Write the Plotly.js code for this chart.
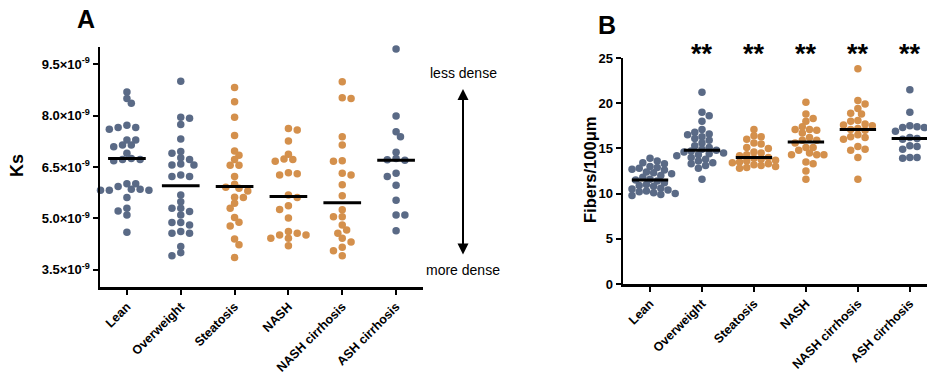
<!DOCTYPE html>
<html>
<head>
<meta charset="utf-8">
<script src="https://cdn.plot.ly/plotly-3.0.1.min.js"></script>
<style>html,body{margin:0;padding:0;background:#fff;}#chart{width:927px;height:375px;}</style>
</head>
<body>
<div id="chart"></div>
<script>
// ---------- data ----------
const groups = ["Lean", "Overweight", "Steatosis", "NASH", "NASH cirrhosis", "ASH cirrhosis"];
const groupColorKey = ["blue", "blue", "orange", "orange", "orange", "blue"];

// Panel A: Ks (units of 10^-9)
const ksLean = [8.69, 8.50, 8.36, 7.65, 7.60, 7.72, 7.65, 7.29, 7.29, 7.14, 7.14, 7.09, 6.90, 6.72, 6.68, 6.75, 6.72, 6.01, 6.01, 5.93, 5.82, 5.85, 5.82, 5.85, 5.82, 5.61, 5.22, 5.30, 5.10, 4.60];
const ksOverweight = [9.00, 7.95, 7.92, 7.74, 7.32, 6.90, 6.95, 6.72, 6.77, 6.56, 6.56, 6.59, 6.27, 6.22, 6.22, 5.68, 5.49, 5.30, 5.30, 5.20, 5.10, 4.88, 4.81, 4.88, 4.62, 4.57, 4.57, 4.18, 3.91, 4.00];
const ksSteatosis = [8.82, 8.40, 7.95, 7.42, 6.84, 6.55, 6.22, 5.91, 5.61, 5.30, 4.78, 4.23, 3.86, 6.55, 5.88, 5.80, 5.44, 5.03, 4.40, 6.97, 6.72, 6.00, 5.62, 4.89];
const ksNASH = [7.58, 7.62, 7.26, 6.87, 6.73, 6.67, 6.72, 6.30, 6.27, 6.33, 5.68, 5.61, 5.37, 5.26, 5.01, 4.62, 4.52, 4.42, 4.52, 4.57, 4.42, 4.20];
const ksNASHcirrhosis = [8.99, 8.52, 8.50, 7.38, 7.14, 6.68, 6.67, 6.27, 6.32, 5.98, 5.66, 5.25, 5.05, 5.05, 4.81, 4.57, 4.66, 4.42, 4.31, 4.16, 3.91, 4.06];
const ksASHcirrhosis = [9.94, 7.99, 7.38, 7.53, 6.93, 6.71, 6.70, 6.75, 6.22, 6.32, 5.97, 5.53, 5.10, 5.10, 4.64];
const ksMedian = [6.75, 5.95, 5.93, 5.64, 5.46, 6.70];

// Panel B: Fibers / 100 µm
const fbLean = [13.9, 13.6, 13.4, 13.3, 13.0, 12.9, 12.8, 12.7, 12.6, 12.4, 12.3, 12.2, 12.0, 11.8, 11.6, 11.5, 11.4, 11.2, 11.0, 10.9, 10.8, 10.6, 10.5, 10.4, 10.3, 10.2, 10.1, 10.0, 9.9, 9.8];
const fbOverweight = [21.2, 19.0, 18.6, 18.0, 17.1, 16.8, 16.6, 16.5, 16.3, 16.1, 15.9, 15.6, 15.3, 15.1, 14.9, 14.8, 14.7, 14.6, 14.5, 14.4, 14.3, 14.2, 14.0, 13.8, 13.6, 13.4, 13.3, 13.1, 12.8, 11.6];
const fbSteatosis = [17.1, 16.4, 16.3, 16.0, 15.6, 15.5, 15.1, 15.0, 14.6, 14.5, 14.3, 14.2, 14.0, 13.9, 13.8, 13.7, 13.6, 13.5, 13.4, 13.3, 13.2, 13.1, 13.0, 12.9, 12.8];
const fbNASH = [20.1, 18.8, 18.3, 18.0, 17.4, 17.1, 17.1, 17.0, 16.7, 16.2, 15.9, 15.9, 15.6, 15.1, 15.1, 14.8, 14.5, 14.3, 14.3, 14.3, 13.5, 13.3, 12.5, 11.6];
const fbNASHcirrhosis = [23.8, 20.3, 19.9, 19.4, 18.9, 18.8, 18.1, 18.0, 17.7, 17.6, 17.5, 17.2, 17.1, 17.0, 16.5, 16.3, 16.2, 16.0, 15.2, 14.9, 14.8, 14.0, 11.6];
const fbASHcirrhosis = [21.5, 19.0, 17.5, 17.4, 17.3, 17.3, 16.9, 16.2, 16.1, 16.0, 15.3, 15.2, 14.9, 14.0, 14.0, 13.9];
const fbMedian = [11.5, 14.8, 14.0, 15.7, 17.1, 16.1];
const significance = ["", "**", "**", "**", "**", "**"];

const ksTickVals = [3.5, 5.0, 6.5, 8.0, 9.5];
const ksTickText = ["3.5×10<sup>-9</sup>", "5.0×10<sup>-9</sup>", "6.5×10<sup>-9</sup>", "8.0×10<sup>-9</sup>", "9.5×10<sup>-9</sup>"];
const fbTickVals = [0, 5, 10, 15, 20, 25];

// ---------- styling / layout ----------
const COLORS = {blue: "#5a6a86", orange: "#d4904c"};
const W = 927, H = 375;
const panA = {x0: 100, x1: 423, y0: 47, y1: 287, xr: [-0.5, 5.5], yr: [3.0, 10.0]};
const panB = {x0: 623, x1: 927, y0: 58, y1: 284, xr: [-0.52, 5.33], yr: [0, 25]};
const FONT = "Liberation Sans, Arial, Helvetica, sans-serif";

function pxPer(p) {
  return {
    x: (p.x1 - p.x0) / (p.xr[1] - p.xr[0]),
    y: (p.y1 - p.y0) / (p.yr[1] - p.yr[0])
  };
}

// beeswarm offsets (in x data units) so markers do not pile up
function swarm(vals, ppu, d, step) {
  const idx = vals.map((v, i) => i).sort((a, b) => vals[b] - vals[a]);
  const placed = [];
  const off = new Array(vals.length);
  let flip = 1;
  for (const i of idx) {
    const y = vals[i] * ppu.y;
    for (let k = 0; k < 50; k++) {
      const cands = k === 0 ? [0] : [flip * k * step, -flip * k * step];
      let found = null;
      for (const c of cands) {
        if (placed.every(p => Math.hypot(p.x - c, p.y - y) >= d)) { found = c; break; }
      }
      if (found !== null) {
        placed.push({x: found, y: y});
        off[i] = found / ppu.x;
        if (found !== 0) flip = -flip;
        break;
      }
    }
  }
  return off;
}

const ksData = [ksLean, ksOverweight, ksSteatosis, ksNASH, ksNASHcirrhosis, ksASHcirrhosis];
const fbData = [fbLean, fbOverweight, fbSteatosis, fbNASH, fbNASHcirrhosis, fbASHcirrhosis];

const traces = [];
const ppuA = pxPer(panA), ppuB = pxPer(panB);
const HALF = 0.35;

ksData.forEach((vals, g) => {
  const off = swarm(vals, ppuA, 6.0, 4.4);
  traces.push({
    type: "scatter", mode: "markers", xaxis: "x", yaxis: "y",
    x: vals.map((v, i) => g + off[i]), y: vals,
    marker: {size: 7.5, color: COLORS[groupColorKey[g]], line: {width: 0}},
    hoverinfo: "skip", showlegend: false, cliponaxis: false
  });
});
ksMedian.forEach((m, g) => {
  traces.push({
    type: "scatter", mode: "lines", xaxis: "x", yaxis: "y",
    x: [g - HALF, g + HALF], y: [m, m],
    line: {color: "#000", width: 3}, hoverinfo: "skip", showlegend: false
  });
});

fbData.forEach((vals, g) => {
  const off = swarm(vals, ppuB, 6.0, 3.6);
  traces.push({
    type: "scatter", mode: "markers", xaxis: "x2", yaxis: "y2",
    x: vals.map((v, i) => g + off[i]), y: vals,
    marker: {size: 7.5, color: COLORS[groupColorKey[g]], line: {width: 0}},
    hoverinfo: "skip", showlegend: false, cliponaxis: false
  });
});
fbMedian.forEach((m, g) => {
  traces.push({
    type: "scatter", mode: "lines", xaxis: "x2", yaxis: "y2",
    x: [g - HALF, g + HALF], y: [m, m],
    line: {color: "#000", width: 3}, hoverinfo: "skip", showlegend: false
  });
});

function dom(a, b, total) { return [a / total, b / total]; }
function ydom(p) { return [(H - p.y1) / H, (H - p.y0) / H]; }

const axisCommon = {
  showgrid: false, zeroline: false, showline: true, linecolor: "#000", linewidth: 2.5,
  ticks: "outside", ticklen: 5, tickwidth: 2, tickcolor: "#000",
  tickfont: {family: FONT, size: 12.5, color: "#000", weight: "bold"}, fixedrange: true
};

const annotations = [
  {text: "A", x: 86 / W, y: (H - 19) / H, xref: "paper", yref: "paper", showarrow: false,
   font: {family: FONT, size: 25, color: "#000", weight: "bold"}, xanchor: "center", yanchor: "middle"},
  {text: "B", x: 607 / W, y: (H - 25) / H, xref: "paper", yref: "paper", showarrow: false,
   font: {family: FONT, size: 25, color: "#000", weight: "bold"}, xanchor: "center", yanchor: "middle"},
  {text: "Ks", x: 17 / W, y: (H - 166) / H, xref: "paper", yref: "paper", showarrow: false, textangle: -90,
   font: {family: FONT, size: 18, color: "#000", weight: "bold"}, xanchor: "center", yanchor: "middle"},
  {text: "Fibers/100μm", x: 590 / W, y: (H - 170) / H, xref: "paper", yref: "paper", showarrow: false, textangle: -90,
   font: {family: FONT, size: 16.5, color: "#000", weight: "bold"}, xanchor: "center", yanchor: "middle"},
  {text: "less dense", x: 463 / W, y: (H - 73) / H, xref: "paper", yref: "paper", showarrow: false,
   font: {family: FONT, size: 14, color: "#000"}, xanchor: "center", yanchor: "middle"},
  {text: "more dense", x: 463 / W, y: (H - 270) / H, xref: "paper", yref: "paper", showarrow: false,
   font: {family: FONT, size: 14, color: "#000"}, xanchor: "center", yanchor: "middle"},
  {text: "", x: 463 / W, y: (H - 89) / H, xref: "paper", yref: "paper", showarrow: true,
   ax: 0, ay: 167, axref: "pixel", ayref: "pixel", arrowhead: 2, arrowside: "end+start",
   arrowsize: 1.1, arrowwidth: 2, arrowcolor: "#000", standoff: 0, startstandoff: 0}
];
significance.forEach((s, g) => {
  if (!s) return;
  annotations.push({
    text: s, x: g, y: (H - 54) / H, xref: "x2", yref: "paper", showarrow: false,
    font: {family: FONT, size: 27, color: "#000", weight: "bold"}, xanchor: "center", yanchor: "middle"
  });
});

const layout = {
  width: W, height: H,
  margin: {l: 0, r: 0, t: 0, b: 0, pad: 0},
  paper_bgcolor: "#fff", plot_bgcolor: "#fff",
  showlegend: false,
  font: {family: FONT, color: "#000"},
  xaxis: Object.assign({}, axisCommon, {
    domain: dom(panA.x0, panA.x1, W), range: panA.xr, anchor: "y",
    tickvals: [0, 1, 2, 3, 4, 5], ticktext: groups, tickangle: -45
  }),
  yaxis: Object.assign({}, axisCommon, {
    domain: ydom(panA), range: panA.yr, anchor: "x",
    tickvals: ksTickVals, ticktext: ksTickText,
    tickfont: {family: FONT, size: 13, color: "#000", weight: "bold"}
  }),
  xaxis2: Object.assign({}, axisCommon, {
    domain: dom(panB.x0, panB.x1, W), range: panB.xr, anchor: "y2",
    tickvals: [0, 1, 2, 3, 4, 5], ticktext: groups, tickangle: -45
  }),
  yaxis2: Object.assign({}, axisCommon, {
    domain: ydom(panB), range: panB.yr, anchor: "x2",
    tickvals: fbTickVals, ticktext: fbTickVals.map(String),
    tickfont: {family: FONT, size: 13, color: "#000", weight: "bold"}
  }),
  annotations: annotations
};

Plotly.newPlot("chart", traces, layout, {staticPlot: true, displayModeBar: false});
</script>
</body>
</html>
